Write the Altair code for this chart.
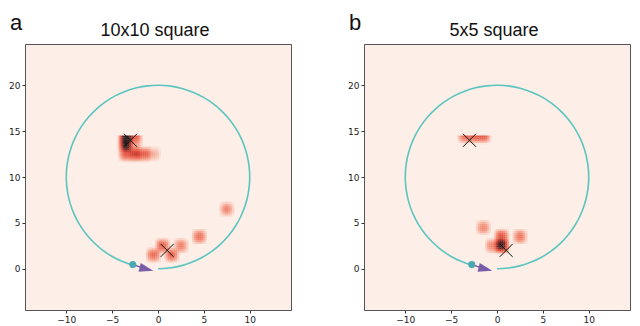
import numpy as np
import pandas as pd
import altair as alt

# ---- data ----
panel_titles = ["10x10 square", "5x5 square"]
panel_letters = ["a", "b"]

# heat blobs (bin centres, relative intensity)
blob_x_a = [-3.5, -3.5, -2.5, -2.5, -3.5, -2.5, -1.5, -0.5, -0.5, 0.5, 1.5, 2.5, 4.5, 7.5]
blob_y_a = [14.5, 13.5, 14.5, 13.5, 12.5, 12.5, 12.5, 12.5, 1.5, 2.5, 1.5, 2.5, 3.5, 6.5]
blob_w_a = [1.1, 1.05, 0.5, 0.2, 0.45, 0.6, 0.45, 0.15, 0.4, 0.45, 0.42, 0.3, 0.38, 0.28]

blob_x_b = [-3.5, -2.5, -1.5, -1.5, -0.5, 0.5, 0.5, 2.5]
blob_y_b = [14.5, 14.5, 14.5, 4.5, 2.5, 2.5, 3.5, 3.5]
blob_w_b = [0.4, 0.45, 0.5, 0.28, 0.3, 1.05, 0.55, 0.35]

# goal markers (x)
goal_x = [-3, 1]
goal_y = [14, 2]

# start dot and arrow head
start_x = [-2.75]
start_y = [0.45]
arrow_x = [-1.26]
arrow_y = [-0.03]

# trajectory circle
circle_cx = [0]
circle_cy = [10]
circle_r = 10

ticks = [-10, -5, 0, 5, 10]
yticks = [0, 5, 10, 15, 20]
XDOM = [-14.5, 14.5]
YDOM = [-4.5, 24.5]

W = 266
H = 266
STEP = 0.2

BG = "#fdeee8"
TEAL = "#5bc5bf"
DOT = "#4aa9b0"
PURPLE = "#7a5ba8"


def kernel(d):
    s = 1.0
    return np.where(np.abs(d) < s, (1 - (d / s) ** 2) ** 2.2, 0.0)


def density(bx, by, bw):
    g = np.arange(XDOM[0], XDOM[1], STEP) + STEP / 2
    GX, GY = np.meshgrid(g, g)
    V = np.zeros_like(GX)
    for x, y, w in zip(bx, by, bw):
        V += w * kernel(GX - x) * kernel(GY - y)
    m = V > 0.01
    return pd.DataFrame({
        "x": GX[m] - STEP / 2, "x2": GX[m] + STEP * 0.6,
        "y": GY[m] - STEP / 2, "y2": GY[m] + STEP * 0.6,
        "v": V[m],
    })


xs = alt.Scale(domain=XDOM, nice=False, zero=False)
ys = alt.Scale(domain=YDOM, nice=False, zero=False)
cscale = alt.Scale(domain=[0, 0.06, 0.18, 0.33, 0.55, 0.8, 1.05],
                   range=[BG, "#f9d0c3", "#f4a08c", "#ee7560", "#de4535", "#7a2622", "#2a1a1a"],
                   clamp=True)


def axis(vals):
    return alt.Axis(values=vals, grid=False, title=None, domain=False, tickSize=3,
                    labelFontSize=9, labelFont="DejaVu Sans", labelColor="#222",
                    tickColor="#333", labelPadding=2)


def panel(title, letter, bx, by, bw):
    heat = alt.Chart(density(bx, by, bw)).mark_rect(strokeWidth=0).encode(
        x=alt.X("x:Q", scale=xs, axis=axis(ticks)),
        x2="x2:Q",
        y=alt.Y("y:Q", scale=ys, axis=axis(yticks)),
        y2="y2:Q",
        color=alt.Color("v:Q", scale=cscale, legend=None),
    )
    circ_df = pd.DataFrame({"x": circle_cx, "y": circle_cy})
    r_px = circle_r * W / (XDOM[1] - XDOM[0])
    circ = alt.Chart(circ_df).mark_arc(
        theta=3.42, theta2=np.pi * 3, radius=r_px + 0.8, radius2=r_px - 0.8, color=TEAL
    ).encode(x=alt.X("x:Q", scale=xs), y=alt.Y("y:Q", scale=ys))
    seg_df = pd.DataFrame({"x": start_x, "y": start_y, "x2": arrow_x, "y2": arrow_y})
    seg = alt.Chart(seg_df).mark_rule(color=PURPLE, strokeWidth=1.5).encode(
        x=alt.X("x:Q", scale=xs), y=alt.Y("y:Q", scale=ys), x2="x2:Q", y2="y2:Q")
    arr_df = pd.DataFrame({"x": arrow_x, "y": arrow_y})
    arr = alt.Chart(arr_df).mark_point(
        shape="M -1 -0.65 L 1 0 L -1 0.65 Z", filled=True, color=PURPLE, size=196, angle=14, opacity=1
    ).encode(x=alt.X("x:Q", scale=xs), y=alt.Y("y:Q", scale=ys))
    dot_df = pd.DataFrame({"x": start_x, "y": start_y})
    dot = alt.Chart(dot_df).mark_circle(color=DOT, size=50, opacity=1).encode(
        x=alt.X("x:Q", scale=xs), y=alt.Y("y:Q", scale=ys))
    goal_df = pd.DataFrame({"x": goal_x, "y": goal_y})
    goal = alt.Chart(goal_df).mark_point(
        shape="M -1 -1 L 1 1 M -1 1 L 1 -1", filled=False, color="#111", size=169, strokeWidth=1, opacity=1
    ).encode(x=alt.X("x:Q", scale=xs), y=alt.Y("y:Q", scale=ys))
    let_df = pd.DataFrame({"t": [letter]})
    let = alt.Chart(let_df).mark_text(
        align="left", baseline="alphabetic", fontSize=22, font="Liberation Sans", color="#111"
    ).encode(x=alt.value(-15), y=alt.value(-14), text="t:N")
    tit_df = pd.DataFrame({"t": [title]})
    tit = alt.Chart(tit_df).mark_text(
        align="center", baseline="alphabetic", fontSize=18, font="Liberation Sans", color="#111"
    ).encode(x=alt.value(W / 2 - 3), y=alt.value(-8), text="t:N")
    return alt.layer(heat, circ, seg, arr, dot, goal, let, tit).properties(width=W, height=H)


pa = panel(panel_titles[0], panel_letters[0], blob_x_a, blob_y_a, blob_w_a)
pb = panel(panel_titles[1], panel_letters[1], blob_x_b, blob_y_b, blob_w_b)

chart = alt.hconcat(pa, pb, spacing=55).configure_view(
    stroke="#555", strokeWidth=1, fill=BG
).properties(padding={"left": 0, "top": 3, "right": 0, "bottom": 0})

chart.save("out.html", embed_options={"renderer": "svg", "actions": False})
